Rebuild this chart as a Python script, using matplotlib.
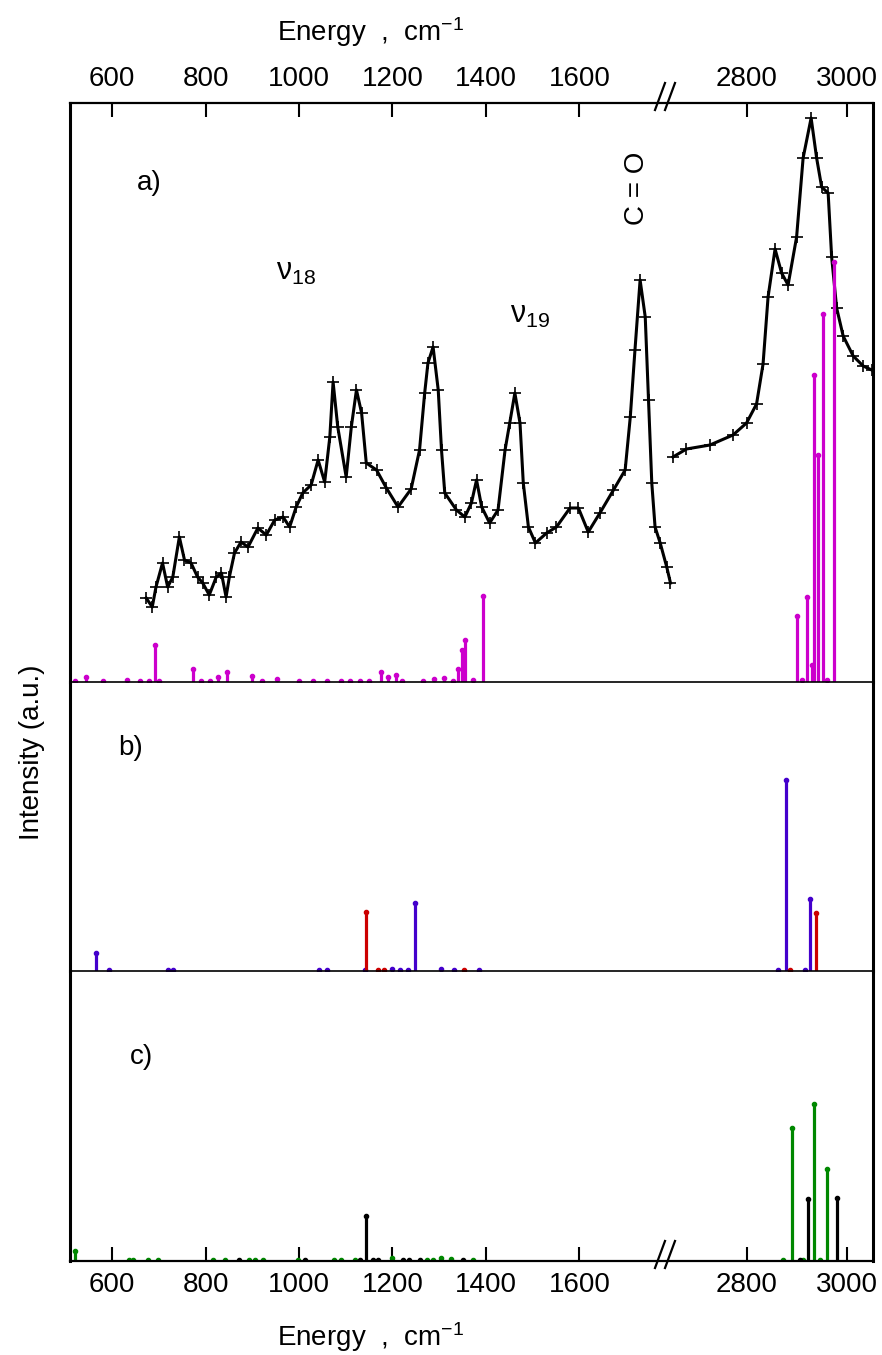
#stick spectra with measured spectrum, broken energy axis
import numpy as np
import matplotlib.pyplot as plt
from matplotlib.lines import Line2D

plt.rcParams['font.family'] = ['Liberation Sans', 'DejaVu Sans']
plt.rcParams['mathtext.fontset'] = 'custom'
plt.rcParams['mathtext.rm'] = 'Liberation Sans'
plt.rcParams['mathtext.it'] = 'Liberation Sans:italic'

# measured spectrum (panel a), low and high energy parts
exp_lo_x = [673, 686, 694, 708, 719, 730, 744, 755, 769, 783, 794, 808, 823, 834, 844, 851,
            862, 876, 891, 912, 930, 948, 966, 980, 994, 1008, 1026, 1041, 1055, 1066, 1073,
            1083, 1101, 1112, 1123, 1134, 1144, 1166, 1187, 1212, 1240, 1258, 1269, 1276,
            1287, 1298, 1305, 1312, 1337, 1355, 1369, 1380, 1391, 1408, 1426, 1441, 1451,
            1462, 1473, 1480, 1491, 1506, 1530, 1551, 1580, 1598, 1619, 1644, 1673, 1698,
            1709, 1719, 1730, 1741, 1748, 1755, 1762, 1773, 1787, 1795]
exp_lo_y = [84, 75, 95, 119, 95, 105, 145, 122, 119, 105, 99, 87, 105, 109, 85, 105,
            129, 140, 135, 154, 147, 162, 165, 155, 175, 189, 197, 222, 200, 245, 300,
            255, 205, 255, 292, 269, 219, 212, 194, 175, 193, 232, 289, 319,
            335, 292, 232, 189, 172, 165, 179, 202, 175, 159, 172, 232, 259,
            289, 259, 199, 155, 139, 149, 155, 174, 174, 150, 169, 192, 212,
            265, 332, 402, 365, 282, 199, 155, 139, 115, 99]
exp_hi_x = [2653, 2680, 2727, 2773, 2800, 2820, 2833, 2843, 2857, 2870, 2883, 2900, 2913,
            2929, 2940, 2950, 2963, 2970, 2980, 2993, 3013, 3033, 3050]
exp_hi_y = [225, 233, 237, 247, 259, 278, 318, 385, 433, 409, 397, 445, 524,
            564, 524, 495, 489, 425, 374, 346, 326, 316, 312]

# calculated sticks, panel a
a_x = [520, 544, 580, 633, 660, 680, 692, 700, 773, 790, 810, 826, 846, 899, 920, 953,
       1000, 1030, 1060, 1090, 1110, 1130, 1150, 1176, 1191, 1207, 1220, 1265, 1288, 1311,
       1330, 1341, 1348, 1355, 1373, 1393,
       2900, 2910, 2920, 2931, 2935, 2942, 2953, 2960, 2975]
a_y = [1, 5, 1, 2, 1, 1, 37, 1, 13, 1, 1, 5, 10, 6, 1, 3,
       1, 1, 1, 1, 1, 1, 1, 10, 5, 7, 1, 1, 3, 4,
       1, 13, 32, 42, 2, 86,
       66, 2, 85, 17, 307, 227, 368, 2, 420]

# panel b
b_blue_x = [566, 593, 719, 730, 1043, 1059, 1142, 1199, 1216, 1233, 1248, 1303, 1332, 1386,
            2863, 2878, 2917, 2927]
b_blue_y = [18, 1, 1, 1, 1, 1, 1, 2.5, 1, 1, 68, 2, 1, 1,
            1, 191, 1, 72]
b_red_x = [1143, 1169, 1183, 1353, 2887, 2939]
b_red_y = [59, 1, 1, 1, 1, 58]

# panel c
c_green_x = [521, 637, 644, 676, 698, 816, 842, 894, 905, 923, 998, 1076, 1091, 1119, 1199,
             1275, 1286, 1303, 1326, 1373, 2873, 2891, 2913, 2935, 2947, 2961]
c_green_y = [10, 1, 1, 1, 1, 1, 1, 1, 1, 1, 1, 1, 1, 1, 3.5,
             1, 1, 3.5, 2.5, 1, 1, 133, 1, 157, 1, 92]
c_black_x = [871, 1012, 1130, 1144, 1158, 1169, 1223, 1236, 1258, 1351, 2907, 2922, 2981]
c_black_y = [1, 1, 1, 45, 1, 1, 1, 1, 1.5, 1, 1, 62, 63]

ticks = [600, 800, 1000, 1200, 1400, 1600, 2800, 3000]

# broken axis: two linear pieces glued together
L0, B1, B2, R = 510, 1796, 2649, 3052
s1, s2 = 0.4667, 0.5
U1 = (B1 - L0) * s1


def fwd(v):
    v = np.asarray(v, dtype=float)
    return np.where(v <= B1, (v - L0) * s1,
                    np.where(v >= B2, U1 + (v - B2) * s2, U1))


def inv(u):
    u = np.asarray(u, dtype=float)
    return np.where(u <= U1, L0 + u / s1, B2 + (u - U1) / s2)


W, H = 882, 1355
fig = plt.figure(figsize=(W / 100, H / 100), dpi=100)
gs = fig.add_gridspec(3, 1, height_ratios=[579, 289, 290], hspace=0,
                      left=70 / W, right=872.7 / W, top=1 - 103 / H, bottom=1 - 1261 / H)
axa = fig.add_subplot(gs[0])
axb = fig.add_subplot(gs[1], sharex=axa)
axc = fig.add_subplot(gs[2], sharex=axa)


def sticks(ax, x, y, color):
    ax.vlines(x, 0, y, color=color, lw=2.3, zorder=3)
    ax.plot(x, y, 'o', color=color, ms=3, zorder=3)


for xs, ys in [(exp_lo_x, exp_lo_y), (exp_hi_x, exp_hi_y)]:
    axa.plot(xs, ys, '-', color='black', lw=2.2, zorder=2)
    axa.plot(xs, ys, '+', color='black', ms=9, mew=1.2, zorder=2)
sticks(axa, a_x, a_y, '#cc00cc')
sticks(axb, b_blue_x, b_blue_y, '#4400cc')
sticks(axb, b_red_x, b_red_y, '#cc0000')
sticks(axc, c_green_x, c_green_y, '#008800')
sticks(axc, c_black_x, c_black_y, 'black')

axa.set_xscale('function', functions=(fwd, inv))
axa.set_xlim(L0, R)
axa.set_xticks(ticks)
axa.set_ylim(0, 579)
axb.set_ylim(0, 289)
axc.set_ylim(0, 290)

for ax in (axa, axb, axc):
    ax.patch.set_visible(False)
    ax.set_yticks([])
    ax.spines['left'].set_linewidth(2.2)
    ax.spines['right'].set_linewidth(2.2)
    ax.tick_params(axis='x', which='both', bottom=False, top=False,
                   labelbottom=False, labeltop=False)
    for sp in ax.spines.values():
        sp.set_zorder(5)

axa.spines['top'].set_linewidth(1.6)
axa.spines['bottom'].set_linewidth(1.2)
axb.spines['top'].set_visible(False)
axb.spines['bottom'].set_linewidth(1.2)
axc.spines['top'].set_visible(False)
axc.spines['bottom'].set_linewidth(1.6)

axa.tick_params(axis='x', top=True, labeltop=True, direction='in', length=10,
                width=1.5, labelsize=20, pad=8)
axc.tick_params(axis='x', bottom=True, labelbottom=True, direction='in', length=10,
                width=1.5, labelsize=20, pad=8)

# labels
xlab = 'Energy  ,  cm$^{-1}$'
fig.text(370 / W, 1 - 32 / H, xlab, fontsize=20, ha='center', va='center')
fig.text(370 / W, 1 - 1337 / H, xlab, fontsize=20, ha='center', va='center')
fig.text(32 / W, 1 - 752 / H, 'Intensity (a.u.)', fontsize=20, rotation=90,
         ha='center', va='center')

fig.text(137 / W, 1 - 183 / H, 'a)', fontsize=20, va='center')
fig.text(118 / W, 1 - 748 / H, 'b)', fontsize=20, va='center')
fig.text(130 / W, 1 - 1057 / H, 'c)', fontsize=20, va='center')
fig.text(276 / W, 1 - 272 / H, 'ν$_{18}$', fontsize=22, va='center')
fig.text(510 / W, 1 - 315 / H, 'ν$_{19}$', fontsize=22, va='center')
fig.text(637 / W, 1 - 188 / H, 'C = O', fontsize=20, rotation=90,
         ha='center', va='center')

# break marks on top and bottom axes
for y0, y1 in [(110, 83), (1268, 1241)]:
    for dx in (0, 10):
        fig.add_artist(Line2D([(655 + dx) / W, (665 + dx) / W],
                              [1 - y0 / H, 1 - y1 / H], color='black', lw=1.6))

fig.savefig('out.png', dpi=100)
